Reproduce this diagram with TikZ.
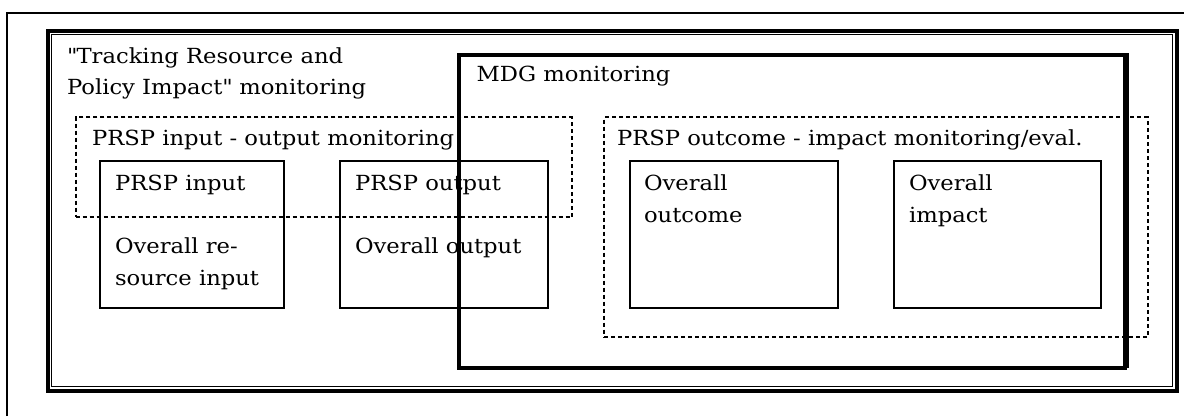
\documentclass[tikz,border=0pt]{standalone}
\usepackage{fontspec}
\setmainfont[FakeStretch=1.09]{DejaVu Serif}
\newcommand\dfs{\fontsize{20.8}{31.7}\selectfont}
\tikzset{
  every node/.style={inner sep=0pt, outer sep=0pt},
  txt/.style={anchor=base west, font=\dfs},
  leaf/.style={draw, line width=2pt, anchor=north west, rectangle},
  grp/.style={draw, line width=2pt, dash pattern=on 4pt off 3pt, anchor=north west, rectangle},
}
\begin{document}
\begin{tikzpicture}[x=1pt,y=-1pt]
\useasboundingbox (0,0) rectangle (1184,416);
% outer page frame (cut by the picture edge)
\coordinate (pfb) at (6.5,416);
\coordinate (pftl) at (6.5,12.5);
\coordinate (pftr) at (1184,12.5);
\draw[line width=2pt] (pfb) -- (pftl) -- (pftr);
% Tracking frame: thick outer, thin inner
\node[draw, line width=4pt, anchor=north west, minimum width=1129pt, minimum height=360.5pt] (trk) at (47.5,30.5) {};
\node[draw, line width=1.5pt, anchor=north west, minimum width=1121pt, minimum height=352pt] (trkin) at (51.5,34.5) {};
% leaf boxes
\node[leaf, minimum width=183.5pt, minimum height=146.5pt] (bin) at (100,161) {};
\node[leaf, minimum width=207.5pt, minimum height=146.5pt] (bout) at (340,161) {};
\node[leaf, minimum width=208pt, minimum height=146.5pt] (boc) at (629.5,161) {};
\node[leaf, minimum width=206.5pt, minimum height=146.5pt] (bim) at (894,161) {};
% dashed groups
\node[grp, minimum width=496.3pt, minimum height=100pt] (gio) at (75.7,117.3) {};
\node[grp, minimum width=543.5pt, minimum height=219.7pt] (goi) at (604,117.3) {};
% texts
\node[txt] (ttrk1) at (67,63) {\textquotedbl Tracking Resource and};
\node[txt] (ttrk2) at (67,94) {Policy Impact\textquotedbl{} monitoring};
\node[txt] (tgio) at (92,145) {PRSP input - output monitoring};
\node[txt] (tgoi) at (617,145) {PRSP outcome - impact monitoring/eval.};
\node[txt] (tin1) at (115,190) {PRSP input};
\node[txt] (tin2) at (115,253) {Overall re-};
\node[txt] (tin3) at (115,285) {source input};
\node[txt] (tout1) at (355,190) {PRSP output};
\node[txt] (tout2) at (355,253) {Overall output};
\node[txt] (toc1) at (644,190) {Overall};
\node[txt] (toc2) at (644,222) {outcome};
\node[txt] (tim1) at (909,190) {Overall};
\node[txt] (tim2) at (909,222) {impact};
% MDG box on top
\node[draw, line width=4pt, anchor=north west, minimum width=665.5pt, minimum height=312.5pt] (mdg) at (459,55) {};
\draw[line width=1.5pt] (mdg.north east) ++(3.5,-2) coordinate (mdgr1) -- (mdg.south east -| mdgr1) coordinate (mdgr2);
\node[txt] (tmdg) at (476.7,81.7) {MDG monitoring};
\end{tikzpicture}
\end{document}
